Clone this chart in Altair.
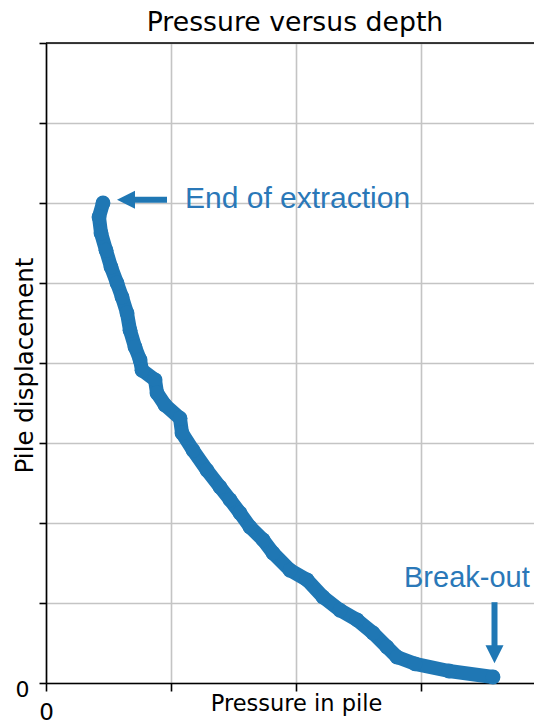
import altair as alt
import pandas as pd

# ---- data (path from end of extraction down to break-out)
pressure = [0.456, 0.424, 0.44, 0.48, 0.52, 0.568, 0.608, 0.648, 0.672, 0.712,
            0.752, 0.768, 0.872, 0.888, 0.952, 1.072, 1.088, 1.176, 1.288, 1.392,
            1.472, 1.552, 1.632, 1.736, 1.816, 1.952, 2.088, 2.216, 2.352, 2.488,
            2.616, 2.728, 2.808, 2.952, 3.224, 3.576]
displacement = [6.0, 5.825, 5.625, 5.41, 5.2, 5.0, 4.825, 4.625, 4.41, 4.2,
                4.04, 3.91, 3.79, 3.625, 3.475, 3.31, 3.125, 2.91, 2.66, 2.45,
                2.29, 2.125, 1.95, 1.79, 1.625, 1.41, 1.29, 1.075, 0.91, 0.79,
                0.625, 0.45, 0.325, 0.24, 0.15, 0.075]

x_ticks = [0, 1, 2, 3]
y_ticks = [0, 1, 2, 3, 4, 5, 6, 7, 8]
X_MAX = 3.904
Y_MAX = 8

# annotations (data coordinates)
ann_text = ["End of extraction", "Break-out"]
ann_text_x = [1.112, 2.864]
ann_text_y = [5.94, 1.2]
ann_size = [30, 29]

shaft_x = [0.968, 3.588]
shaft_x2 = [0.70, 3.588]
shaft_y = [6.04, 1.01]
shaft_y2 = [6.04, 0.46]

head_x = [0.64, 3.588]
head_y = [6.04, 0.36]
head_shape = ["M -1 0 L 1 -1 L 1 1 Z", "M -1 -1 L 1 -1 L 0 1 Z"]

spine_y = [Y_MAX]

BLUE = "#1f77b4"
TEXT_BLUE = "#2a78b8"

df = pd.DataFrame({"x": pressure, "y": displacement,
                   "order": list(range(len(pressure)))})
shafts = pd.DataFrame({"x": shaft_x, "x2": shaft_x2, "y": shaft_y, "y2": shaft_y2})
heads = pd.DataFrame({"x": head_x, "y": head_y, "shape": head_shape})
texts = pd.DataFrame({"x": ann_text_x, "y": ann_text_y, "t": ann_text, "s": ann_size})
spine = pd.DataFrame({"y": spine_y})

xscale = alt.Scale(domain=[0, X_MAX], nice=False, zero=False)
yscale = alt.Scale(domain=[0, Y_MAX], nice=False, zero=False)

xaxis = alt.Axis(values=x_ticks, labelExpr="datum.value == 0 ? '0' : ''",
                 title="Pressure in pile", grid=True, gridColor="#c4c4c4", gridWidth=1.6,
                 domainColor="#000000", domainWidth=1.6, tickColor="#000000",
                 tickWidth=1.6, tickSize=8, labelFont="DejaVu Sans", labelFontSize=23,
                 labelColor="#000000", labelPadding=10, labelBaseline="top",
                 labelFlush=False, labelAlign="center",
                 titleFont="DejaVu Sans", titleFontSize=22.5, titleFontWeight="normal",
                 titleColor="#000000", titleBaseline="alphabetic", titleY=27,
                 titleX=250)
yaxis = alt.Axis(values=y_ticks, labelExpr="datum.value == 0 ? '0' : ''",
                 title="Pile displacement", grid=True, gridColor="#c4c4c4", gridWidth=1.6,
                 domainColor="#000000", domainWidth=1.6, tickColor="#000000",
                 tickWidth=1.6, tickSize=7, labelFont="DejaVu Sans", labelFontSize=22,
                 labelColor="#000000", labelPadding=10, labelOffset=6,
                 labelFlush=False, labelBaseline="middle",
                 titleFont="DejaVu Sans", titleFontSize=24.5, titleFontWeight="normal",
                 titleColor="#000000", titleBaseline="alphabetic", titleX=-14,
                 titleY=322, titleAngle=270)


def X():
    return alt.X("x:Q", scale=xscale, axis=xaxis)


def Y():
    return alt.Y("y:Q", scale=yscale, axis=yaxis)


line = alt.Chart(df).mark_line(color=BLUE, strokeWidth=14, strokeCap="round",
                               strokeJoin="round").encode(x=X(), y=Y(), order="order:Q")

dots = alt.Chart(df).mark_circle(color=BLUE, size=220, opacity=1).encode(x=X(), y=Y())

top_spine = alt.Chart(spine).mark_rule(color="#000000", strokeWidth=1.6).encode(y=Y())

shaft = alt.Chart(shafts).mark_rule(color=BLUE, strokeWidth=6).encode(
    x=X(), x2="x2:Q", y=Y(), y2="y2:Q")

head = alt.Chart(heads).mark_point(filled=True, color=BLUE, opacity=1, size=324,
                                    strokeWidth=0).encode(
    x=X(), y=Y(), shape=alt.Shape("shape:N", scale=None, legend=None))

labels = alt.Chart(texts).mark_text(align="left", baseline="alphabetic",
                                     font="Liberation Sans",
                                     color=TEXT_BLUE).encode(
    x=X(), y=Y(), text="t:N", size=alt.Size("s:Q", scale=None, legend=None))

chart = alt.layer(line, dots, top_spine, shaft, head, labels).properties(
    width=488, height=640,
    title=alt.Title("Pressure versus depth", font="DejaVu Sans", fontSize=26.7,
                    fontWeight="normal", color="#000000", anchor="middle",
                    offset=6, dx=5, frame="group"),
    autosize=alt.AutoSizeParams(type="none"),
    padding={"left": 38, "top": 35, "right": 0, "bottom": 39},
).configure_view(stroke=None)

chart.save("out.html", embed_options={"renderer": "svg", "actions": False})
